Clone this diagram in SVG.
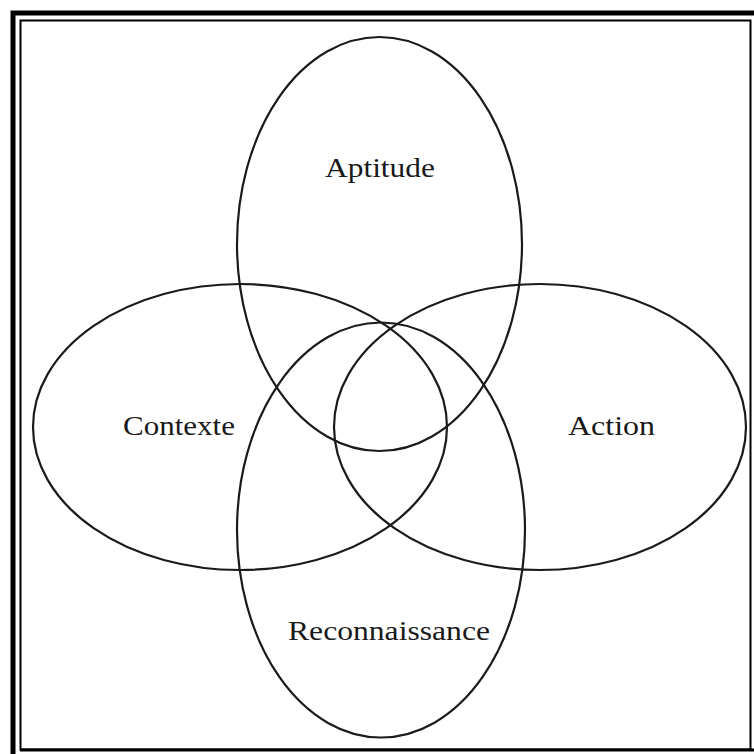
<svg xmlns="http://www.w3.org/2000/svg" width="754" height="754" viewBox="0 0 754 754">
<style>
.e{fill:none;stroke:#1a1a1a;stroke-width:2.2}
.t{font-family:"Liberation Serif","Times New Roman",serif;font-size:28px;fill:#1a1a1a}
</style>
<rect width="754" height="754" fill="#fff"/>
<g id="frame">
<path d="M13 754V13H754" fill="none" stroke="#000" stroke-width="5"/>
<rect x="20.5" y="20.5" width="730" height="729" fill="none" stroke="#000" stroke-width="2"/>
<line x1="20" y1="750" x2="754" y2="750" stroke="#000" stroke-width="3"/>
</g>
<g id="aptitude">
<ellipse class="e" cx="379.5" cy="244" rx="142.5" ry="207"/>
<text class="t" x="325" y="177" textLength="110" lengthAdjust="spacingAndGlyphs">Aptitude</text>
</g>
<g id="reconnaissance">
<ellipse class="e" cx="381" cy="530" rx="144" ry="207.5"/>
<text class="t" x="288" y="640" textLength="202" lengthAdjust="spacingAndGlyphs">Reconnaissance</text>
</g>
<g id="contexte">
<ellipse class="e" cx="240" cy="427" rx="207" ry="143"/>
<text class="t" x="123" y="435" textLength="112" lengthAdjust="spacingAndGlyphs">Contexte</text>
</g>
<g id="action">
<ellipse class="e" cx="540" cy="427" rx="206" ry="143"/>
<text class="t" x="568" y="435" textLength="87" lengthAdjust="spacingAndGlyphs">Action</text>
</g>
</svg>
